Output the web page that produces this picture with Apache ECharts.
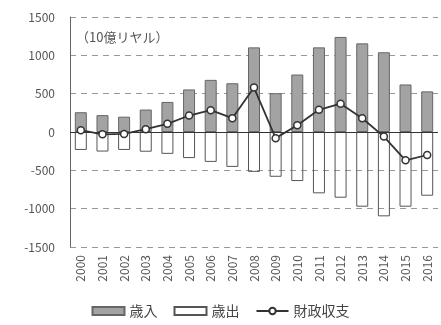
<!DOCTYPE html>
<html><head><meta charset="utf-8">
<script src="https://cdn.jsdelivr.net/npm/echarts@6/dist/echarts.min.js"></script>
<style>html,body{margin:0;padding:0;background:#fff}#c{width:441px;height:325px}</style>
</head><body><div id="c"></div>
<script>
const years = ['2000','2001','2002','2003','2004','2005','2006','2007','2008','2009','2010','2011','2012','2013','2014','2015','2016'];
const revenue = [258, 220, 200, 293, 392, 555, 680, 636, 1104, 506, 750, 1104, 1240, 1156, 1040, 620, 530];
const expenditure = [-234, -255, -234, -257, -285, -340, -390, -455, -520, -584, -640, -800, -857, -974, -1100, -974, -831];
const balance = [23, -30, -25, 36, 107, 215, 285, 180, 580, -80, 88, 290, 370, 180, -60, -370, -300];
const yTicks = [-1500, -1000, -500, 0, 500, 1000, 1500];
const unitLabel = '（10億リヤル）';

const chart = echarts.init(document.getElementById('c'));
chart.setOption({
  animation: false,
  textStyle: {fontFamily: '"Noto Sans CJK JP", "Noto Sans", sans-serif'},
  grid: {left: 70, right: 3, top: 17, bottom: 78},
  legend: {
    bottom: 2, left: 'center', itemGap: 16, itemWidth: 32, itemHeight: 8,
    textStyle: {color: '#444', fontSize: 14},
    data: [
      {name: '歳入', icon: 'rect'},
      {name: '歳出', icon: 'rect'},
      {name: '財政収支'}
    ]
  },
  graphic: [{
    type: 'text', left: 76, top: 31,
    style: {text: unitLabel, fill: '#555', fontSize: 13, fontFamily: '"Noto Sans CJK JP", sans-serif'}
  }],
  xAxis: {
    type: 'category', data: years,
    axisLine: {show: false}, axisTick: {show: false},
    axisLabel: {rotate: 90, color: '#555', fontSize: 12, margin: 8}
  },
  yAxis: {
    type: 'value', min: -1500, max: 1500, interval: 500,
    axisLine: {show: true, lineStyle: {color: '#666', width: 1}},
    axisTick: {show: false},
    axisLabel: {color: '#555', fontSize: 12, margin: 15,
      formatter: v => yTicks.includes(v) ? String(v) : ''},
    splitLine: {show: true, lineStyle: {color: '#999', type: [6, 5], width: 1}}
  },
  series: [
    {
      name: '歳入', type: 'bar', data: revenue, barWidth: 12, barGap: '-100%',
      itemStyle: {color: '#a3a3a3', borderColor: '#666', borderWidth: 1}
    },
    {
      name: '歳出', type: 'bar', data: expenditure, barWidth: 12, barGap: '-100%',
      itemStyle: {color: 'rgba(255,255,255,0)', borderColor: '#555', borderWidth: 1},
      markLine: {
        silent: true, symbol: 'none', label: {show: false},
        lineStyle: {color: '#333', type: 'solid', width: 1},
        data: [{yAxis: 0}]
      }
    },
    {
      name: '財政収支', type: 'line', data: balance,
      symbol: 'circle', symbolSize: 7,
      lineStyle: {color: '#333', width: 1.8},
      itemStyle: {color: '#fff', borderColor: '#333', borderWidth: 1.5},
      z: 5
    }
  ]
});
</script>
</body></html>
